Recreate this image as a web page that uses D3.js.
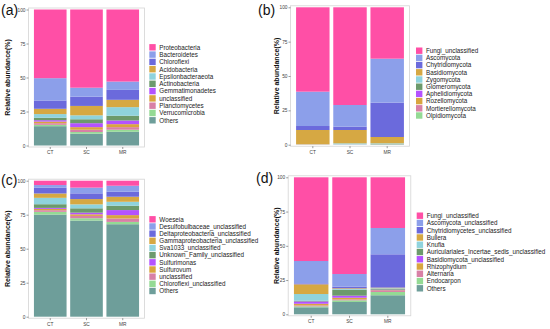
<html>
<head>
<script src="https://cdn.jsdelivr.net/npm/d3@7"></script>
<style>
  body { margin: 0; background: #fff; }
  svg { font-family: "Liberation Sans", Arial, sans-serif; }
</style>
</head>
<body>
<div id="chart"></div>
<script>
var samples = ["CT", "SC", "MR"];
var yTicks = [0, 25, 50, 75, 100];

var palette = ["#FF4FA6", "#8C9FEA", "#6B6ADC", "#D6A843", "#8FD3DD", "#6C9A6C",
               "#B452FF", "#D9A53F", "#D880A6", "#94DA94", "#6E9E9A"];

// (a) bacterial phyla, listed top of stack first
var aTaxa = ["Proteobacteria", "Bacteroidetes", "Chloroflexi", "Acidobacteria", "Epsilonbacteraeota",
             "Actinobacteria", "Gemmatimonadetes", "unclassified", "Planctomycetes", "Verrucomicrobia", "Others"];
var aCT = [50.5, 16.4, 6.1, 3.9, 2.7, 1.8, 1.0, 1.2, 1.2, 1.0, 14.2];
var aSC = [57.5, 6.6, 6.8, 6.9, 2.9, 2.9, 2.9, 1.9, 1.7, 1.2, 8.7];
var aMR = [53.0, 6.1, 7.3, 5.4, 6.3, 3.5, 2.7, 2.2, 1.9, 1.5, 10.1];

// (b) fungal phyla
var bTaxa = ["Fungi_unclassified", "Ascomycota", "Chytridiomycota", "Basidiomycota", "Zygomycota",
             "Glomeromycota", "Aphelidiomycota", "Rozellomycota", "Mortierellomycota", "Olpidiomycota"];
var bCT = [61.4, 25.0, 2.9, 10.4, 0.1, 0.05, 0.05, 0.05, 0.05, 0.0];
var bSC = [71.1, 15.8, 2.4, 9.7, 0.8, 0.05, 0.05, 0.05, 0.05, 0.0];
var bMR = [37.4, 32.0, 25.0, 4.6, 0.6, 0.3, 0.05, 0.05, 0.0, 0.0];

// (c) bacterial genera
var cTaxa = ["Woeseia", "Desulfobulbaceae_unclassified", "Deltaproteobacteria_unclassified",
             "Gammaproteobacteria_unclassified", "Sva1033_unclassified", "Unknown_Family_unclassified",
             "Sulfurimonas", "Sulfurovum", "unclassified", "Chloroflexi_unclassified", "Others"];
var cCT = [3.2, 2.0, 4.2, 3.2, 4.7, 2.7, 0.7, 1.0, 1.2, 2.0, 75.1];
var cSC = [5.1, 4.2, 4.2, 3.9, 2.9, 3.2, 1.2, 1.2, 1.7, 1.7, 70.7];
var cMR = [3.7, 4.4, 3.7, 3.7, 2.9, 3.2, 3.7, 2.5, 2.5, 1.7, 68.0];

// (d) fungal genera
var dTaxa = ["Fungi_unclassified", "Ascomycota_unclassified", "Chytridiomycetes_unclassified", "Bullera",
             "Knufia", "Auriculariales_Incertae_sedis_unclassified", "Basidiomycota_unclassified",
             "Rhizophydium", "Alternaria", "Endocarpon", "Others"];
var dCT = [61.1, 16.3, 0.7, 7.1, 4.9, 0.5, 1.7, 1.2, 0.7, 0.7, 5.1];
var dSC = [70.6, 9.2, 1.2, 0.5, 0.5, 4.4, 1.5, 1.2, 0.7, 1.2, 9.0];
var dMR = [37.0, 19.2, 24.3, 0.5, 0.5, 0.5, 0.5, 0.5, 0.7, 2.4, 13.9];

var panels = [
  { tag: "(a)", taxa: aTaxa, vals: [aCT, aSC, aMR], x0: 28.5, x1: 144.5, y0: 145.5, y1: 9.5,
    tagX: 1, tagY: 15, titleX: 10, legX: 149.3, legY: 47.3, legStep: 7.3 },
  { tag: "(b)", taxa: bTaxa, vals: [bCT, bSC, bMR], x0: 290.5, x1: 409.5, y0: 144.7, y1: 7.3,
    tagX: 258, tagY: 15, titleX: 279, legX: 416, legY: 50.7, legStep: 7.2 },
  { tag: "(c)", taxa: cTaxa, vals: [cCT, cSC, cMR], x0: 28.5, x1: 144.5, y0: 316.7, y1: 180.7,
    tagX: 1, tagY: 185, titleX: 10, legX: 149.3, legY: 219.3, legStep: 7.17 },
  { tag: "(d)", taxa: dTaxa, vals: [dCT, dSC, dMR], x0: 288.2, x1: 410.8, y0: 314.3, y1: 177.3,
    tagX: 256, tagY: 183, titleX: 279, legX: 416.7, legY: 215.7, legStep: 7.26 }
];

var svg = d3.select("#chart").append("svg")
  .attr("width", 550)
  .attr("height", 329);

panels.forEach(function(p) {
  var g = svg.append("g");

  var x = d3.scaleBand().domain(samples).range([p.x0, p.x1])
    .paddingInner(0.1).paddingOuter(0.15);
  var y = d3.scaleLinear().domain([0, 100]).range([p.y0, p.y1]);
  var color = d3.scaleOrdinal().domain(p.taxa).range(palette);

  // rows for stacking, keys bottom-up so the first taxon sits on top
  var rows = samples.map(function(s, i) {
    var r = { sample: s };
    p.taxa.forEach(function(t, j) { r[t] = p.vals[i][j]; });
    return r;
  });
  var keys = p.taxa.slice().reverse();
  var series = d3.stack().keys(keys)(rows);

  // panel frame
  g.append("rect")
    .attr("x", p.x0).attr("y", p.y1 - 1.5)
    .attr("width", p.x1 - p.x0).attr("height", p.y0 - p.y1 + 3)
    .attr("fill", "none").attr("stroke", "#d4d4d4").attr("stroke-width", 0.8);

  g.selectAll("g.layer").data(series).enter().append("g")
    .attr("fill", function(d) { return color(d.key); })
    .selectAll("rect").data(function(d) { return d; }).enter().append("rect")
      .attr("x", function(d) { return x(d.data.sample); })
      .attr("width", x.bandwidth())
      .attr("y", function(d) { return y(d[1]); })
      .attr("height", function(d) { return Math.max(0, y(d[0]) - y(d[1])); });

  var yAxis = g.append("g")
    .attr("transform", "translate(" + p.x0 + ",0)")
    .call(d3.axisLeft(y).tickValues(yTicks).tickSize(2).tickPadding(1));
  var xAxis = g.append("g")
    .attr("transform", "translate(0," + (p.y0 + 1.5) + ")")
    .call(d3.axisBottom(x).tickSize(2).tickPadding(2));
  [yAxis, xAxis].forEach(function(a) {
    a.select(".domain").remove();
    a.selectAll("line").attr("stroke", "#555").attr("stroke-width", 0.6);
    a.selectAll("text").attr("fill", "#444").style("font-size", "4.8px");
  });

  g.append("text")
    .attr("transform", "translate(" + p.titleX + "," + ((p.y0 + p.y1) / 2) + ") rotate(-90)")
    .attr("text-anchor", "middle")
    .style("font-size", "7px").style("font-weight", "bold")
    .attr("fill", "#111")
    .text("Relative abundance(%)");

  g.append("text")
    .attr("x", p.tagX).attr("y", p.tagY)
    .style("font-size", "14px").attr("fill", "#111")
    .text(p.tag);

  var leg = g.selectAll("g.leg").data(p.taxa).enter().append("g")
    .attr("transform", function(d, i) {
      return "translate(" + p.legX + "," + (p.legY + i * p.legStep) + ")";
    });
  leg.append("rect")
    .attr("x", 0).attr("y", -3.2).attr("width", 6.4).attr("height", 6.4)
    .attr("fill", function(d) { return color(d); });
  leg.append("text")
    .attr("x", 10).attr("y", 2.3)
    .style("font-size", "6.3px").attr("fill", "#222")
    .text(function(d) { return d; });
});
</script>
</body>
</html>
